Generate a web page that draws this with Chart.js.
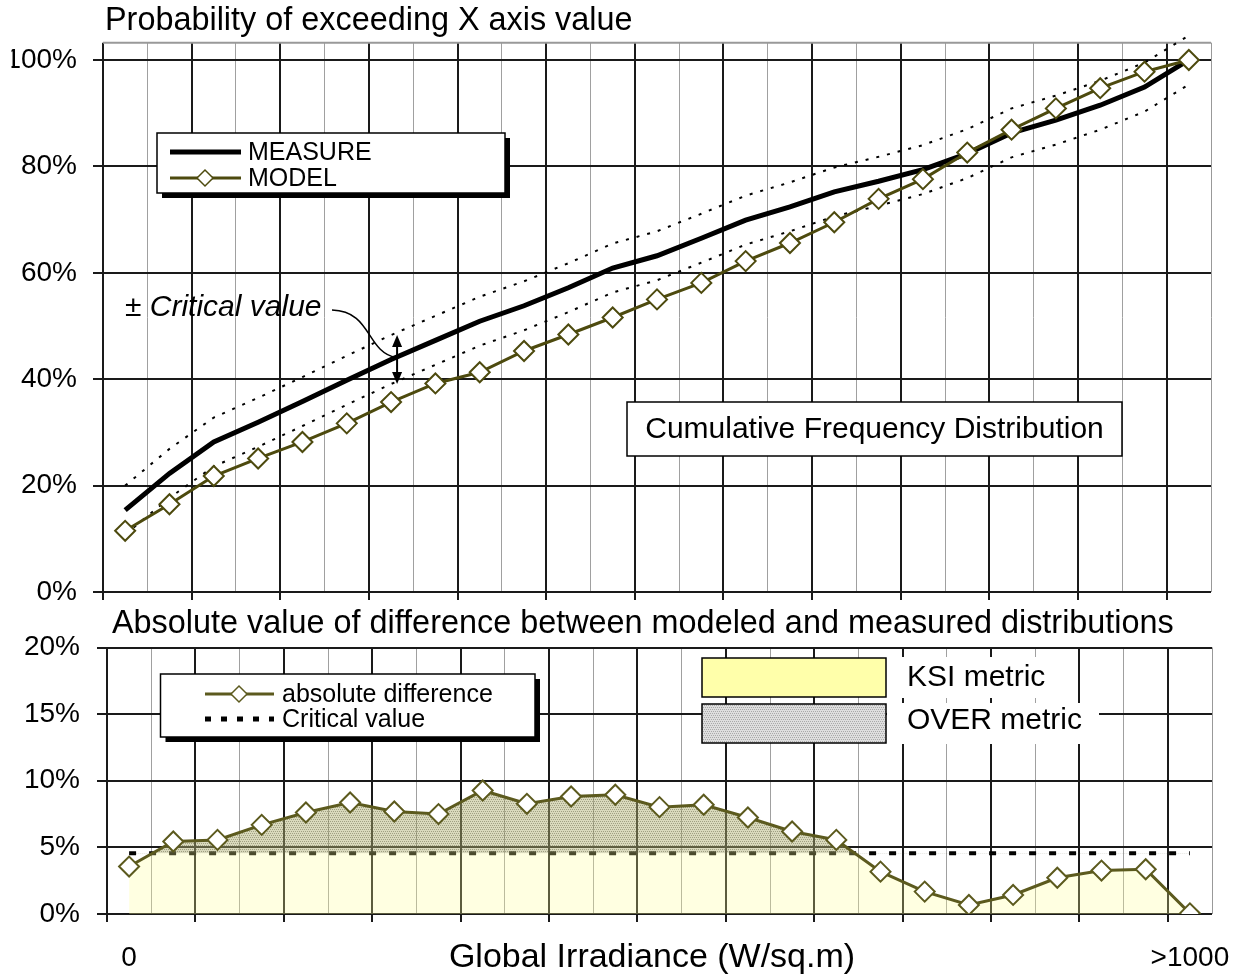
<!DOCTYPE html>
<html>
<head>
<meta charset="utf-8">
<script src="https://cdn.jsdelivr.net/npm/chart.js@4.4.1/dist/chart.umd.min.js"></script>
<style>
  body { margin: 0; background: #fff; width: 1253px; height: 978px; overflow: hidden; position: relative; }
  #diffCanvas { position: absolute; left: 0; top: 605px; }
  #cfdCanvas { position: absolute; left: 0; top: 0; }
</style>
</head>
<body>
<canvas id="diffCanvas" width="1253" height="373"></canvas>
<canvas id="cfdCanvas" width="1253" height="626"></canvas>
<script>
// Irradiance bins (only the first and last carry a tick label)
const bins = ['0', '', '', '', '', '', '', '', '', '', '', '', '', '', '', '', '', '', '', '', '', '', '', '', '>1000'];

// Cumulative frequency (%)
const measure = [15.4, 22.3, 28.2, 31.9, 35.8, 39.8, 43.7, 47.3, 50.9, 53.8, 57.2, 60.9, 63.2, 66.5, 69.9, 72.4, 75.2, 77.2, 79.4, 82.4, 86.3, 88.7, 91.5, 94.9, 100];
const model = [11.5, 16.5, 21.8, 25.1, 28.2, 31.7, 35.7, 39.2, 41.3, 45.3, 48.4, 51.6, 55.0, 58.1, 62.2, 65.6, 69.5, 73.9, 77.6, 82.6, 86.9, 90.9, 94.7, 97.8, 100];
// dotted +/- critical value band around MEASURE (%)
const upperBand = [20.0, 26.9, 32.8, 36.5, 40.4, 44.4, 48.3, 51.9, 55.5, 58.4, 61.8, 65.5, 67.8, 71.1, 74.5, 77.0, 79.8, 81.8, 84.0, 87.0, 90.9, 93.3, 96.1, 99.5, 104.6];
const lowerBand = [10.8, 17.7, 23.6, 27.3, 31.2, 35.2, 39.1, 42.7, 46.3, 49.2, 52.6, 56.3, 58.6, 61.9, 65.3, 67.8, 70.6, 72.6, 74.8, 77.8, 81.7, 84.1, 86.9, 90.3, 95.4];

// Absolute difference (%)
const absDiff = [3.56, 5.44, 5.56, 6.69, 7.62, 8.37, 7.69, 7.50, 9.27, 8.27, 8.82, 8.95, 8.02, 8.20, 7.24, 6.19, 5.56, 3.18, 1.68, 0.68, 1.43, 2.72, 3.26, 3.36, 0.05];
const criticalValue = 4.56;

const topTicks = [0, 20, 40, 60, 80, 100];
const bottomTicks = [0, 5, 10, 15, 20];

const fontFam = '"Liberation Sans", Arial, sans-serif';
const olive = '#4d4a0e';
const olive2 = '#5c5a1e';

// little hatch patterns for the OVER fill
function hatch(bg, fg) {
    const c = document.createElement('canvas');
    c.width = 4; c.height = 4;
    const g = c.getContext('2d');
    g.fillStyle = bg; g.fillRect(0, 0, 4, 4);
    g.fillStyle = fg;
    for (let i = 0; i < 4; i++) g.fillRect(i, (i * 2) % 4, 1, 1);
    return g.createPattern(c, 'repeat');
}
const overFill = hatch('rgba(110,110,80,0.26)', 'rgba(80,80,50,0.42)');
const overSwatch = hatch('#dedede', '#a9a9a9');

// helpers
function diamond(ctx, x, y, r, stroke, lw) {
    ctx.beginPath();
    ctx.moveTo(x - r, y); ctx.lineTo(x, y - r); ctx.lineTo(x + r, y); ctx.lineTo(x, y + r);
    ctx.closePath();
    ctx.fillStyle = '#fff'; ctx.fill();
    ctx.lineWidth = lw; ctx.strokeStyle = stroke; ctx.stroke();
}
function shadowBox(ctx, x, y, w, h, off) {
    ctx.fillStyle = '#000'; ctx.fillRect(x + off, y + off, w, h);
    ctx.fillStyle = '#fff'; ctx.fillRect(x, y, w, h);
    ctx.lineWidth = 1.5; ctx.strokeStyle = '#000'; ctx.strokeRect(x, y, w, h);
}
function label(ctx, s, x, y, size, align, style) {
    ctx.font = (style || '') + ' ' + size + 'px ' + fontFam;
    ctx.fillStyle = '#000';
    ctx.textAlign = align || 'left';
    ctx.textBaseline = 'middle';
    ctx.fillText(s, x, y);
}

// grid styling: major line every other bin boundary, thin grey between
const isMajor = c => c.index !== undefined && c.index % 2 === 0;
const xGrid = {
    offset: true,
    color: c => c.index === undefined ? '#999' : (isMajor(c) ? '#1a1a1a' : '#a0a0a0'),
    lineWidth: c => isMajor(c) ? 2 : 1,
    tickLength: 8,
    tickColor: c => isMajor(c) ? '#1a1a1a' : 'rgba(0,0,0,0)',
    tickWidth: 2
};
const yGrid = { color: '#1a1a1a', lineWidth: 2, tickLength: 10, tickColor: '#1a1a1a', tickWidth: 2 };
const tickFont = { size: 28, family: fontFam };

// ---------- top chart: cumulative frequency ----------
const topPlugin = {
    id: 'topDecor',
    beforeDatasetsDraw(chart) {
        const { ctx, chartArea: a } = chart;
        ctx.save();
        ctx.strokeStyle = '#999'; ctx.lineWidth = 2;
        ctx.beginPath(); ctx.moveTo(a.left, a.top); ctx.lineTo(a.right, a.top); ctx.stroke();
        ctx.restore();
    },
    afterDraw(chart) {
        const ctx = chart.ctx;
        const xs = chart.scales.x, ys = chart.scales.y;
        ctx.save();
        // the original picture has its left edge cut through the "1" of 100%
        ctx.fillStyle = '#fff'; ctx.fillRect(0, 40, 11.5, 40);

        label(ctx, 'Probability of exceeding X axis value', 105, 21, 32.4);

        // legend
        shadowBox(ctx, 157, 133, 348, 60, 5);
        ctx.strokeStyle = '#000'; ctx.lineWidth = 5;
        ctx.beginPath(); ctx.moveTo(170, 152); ctx.lineTo(241, 152); ctx.stroke();
        label(ctx, 'MEASURE', 248, 153, 25);
        ctx.strokeStyle = olive; ctx.lineWidth = 3;
        ctx.beginPath(); ctx.moveTo(170, 178); ctx.lineTo(241, 178); ctx.stroke();
        diamond(ctx, 205, 178, 8, olive, 1.5);
        label(ctx, 'MODEL', 248, 179, 25);

        // box label
        ctx.fillStyle = '#fff'; ctx.fillRect(627, 402, 495, 54);
        ctx.strokeStyle = '#000'; ctx.lineWidth = 1.5; ctx.strokeRect(627, 402, 495, 54);
        label(ctx, 'Cumulative Frequency Distribution', 874.5, 430, 30, 'center');

        // +/- critical value annotation
        const at = 6;
        const ax = xs.getPixelForValue(at) + 6;
        const y1 = ys.getPixelForValue(upperBand[at]);
        const y2 = ys.getPixelForValue(lowerBand[at]);
        const ym = ys.getPixelForValue(measure[at]);
        label(ctx, '\u00b1 Critical value', 125, 308, 30, 'left', 'italic');
        ctx.strokeStyle = '#000'; ctx.lineWidth = 1.5;
        ctx.beginPath(); ctx.moveTo(332, 310);
        ctx.bezierCurveTo(372, 311, 366, 352, ax - 1, ym - 2);
        ctx.stroke();
        ctx.lineWidth = 2;
        ctx.beginPath(); ctx.moveTo(ax, y1 + 8); ctx.lineTo(ax, y2 - 8); ctx.stroke();
        ctx.fillStyle = '#000';
        ctx.beginPath(); ctx.moveTo(ax, y1); ctx.lineTo(ax - 5, y1 + 12); ctx.lineTo(ax + 5, y1 + 12); ctx.closePath(); ctx.fill();
        ctx.beginPath(); ctx.moveTo(ax, y2); ctx.lineTo(ax - 5, y2 - 12); ctx.lineTo(ax + 5, y2 - 12); ctx.closePath(); ctx.fill();
        ctx.restore();
    }
};

const bandStyle = {
    borderColor: '#000', borderWidth: 2, borderDash: [3, 8],
    pointRadius: 0, fill: false, clip: false, order: 3
};

new Chart(document.getElementById('cfdCanvas'), {
    type: 'line',
    data: {
        labels: bins,
        datasets: [
            { label: 'upper', data: upperBand, ...bandStyle },
            { label: 'lower', data: lowerBand, ...bandStyle },
            { label: 'MEASURE', data: measure, borderColor: '#000', borderWidth: 5, pointRadius: 0, fill: false, order: 1 },
            { label: 'MODEL', data: model, borderColor: olive, borderWidth: 3, pointStyle: 'rectRot', pointRadius: 10,
              pointBackgroundColor: '#fff', pointBorderColor: olive, pointBorderWidth: 2, fill: false, order: 0 }
        ]
    },
    options: {
        responsive: false,
        animation: false,
        layout: { padding: { left: 0, right: 42, top: 42.7, bottom: 0 } },
        plugins: { legend: { display: false }, tooltip: { enabled: false } },
        scales: {
            x: {
                type: 'category', offset: true,
                afterFit: s => { s.height = 34; },
                grid: xGrid, border: { display: false },
                ticks: { display: false }
            },
            y: {
                min: 0, max: 103.25,
                afterFit: s => { s.width = 103; },
                afterBuildTicks: s => { s.ticks = topTicks.map(v => ({ value: v })); },
                grid: yGrid, border: { display: false },
                ticks: { color: '#000', font: tickFont, padding: 16, callback: v => v + '%' }
            }
        }
    },
    plugins: [topPlugin]
});

// ---------- bottom chart: absolute difference ----------
const bottomPlugin = {
    id: 'bottomDecor',
    afterDraw(chart) {
        const ctx = chart.ctx;
        ctx.save();
        label(ctx, 'Absolute value of difference between modeled and measured distributions', 112, 19, 32.4);
        label(ctx, 'Global Irradiance (W/sq.m)', 652, 353, 34, 'center');

        // legend with line samples
        shadowBox(ctx, 160.5, 69, 374.5, 63, 5);
        ctx.strokeStyle = olive2; ctx.lineWidth = 3;
        ctx.beginPath(); ctx.moveTo(205, 89); ctx.lineTo(274, 89); ctx.stroke();
        diamond(ctx, 239, 89, 8, olive2, 1.5);
        label(ctx, 'absolute difference', 282, 90, 25);
        ctx.strokeStyle = '#000'; ctx.lineWidth = 5; ctx.setLineDash([6, 10]);
        ctx.beginPath(); ctx.moveTo(205, 114); ctx.lineTo(274, 114); ctx.stroke();
        ctx.setLineDash([]);
        label(ctx, 'Critical value', 282, 115, 25);

        // metric swatches
        ctx.fillStyle = '#fff';
        ctx.fillRect(887, 52, 190, 41);
        ctx.fillRect(887, 98, 212, 41);
        ctx.lineWidth = 1.5; ctx.strokeStyle = '#000';
        ctx.fillStyle = '#ffffaa'; ctx.fillRect(702, 53, 184, 39); ctx.strokeRect(702, 53, 184, 39);
        ctx.fillStyle = overSwatch; ctx.fillRect(702, 99, 184, 39); ctx.strokeRect(702, 99, 184, 39);
        label(ctx, 'KSI metric', 907, 73, 30);
        label(ctx, 'OVER metric', 907, 116, 30);
        ctx.restore();
    }
};

new Chart(document.getElementById('diffCanvas'), {
    type: 'line',
    data: {
        labels: bins,
        datasets: [
            { label: 'Critical value', data: bins.map(() => criticalValue), borderColor: '#000', borderWidth: 4,
              borderDash: [7, 13], pointRadius: 0, fill: false, order: 3 },
            { label: 'KSI metric', data: absDiff, borderWidth: 0, pointRadius: 0,
              fill: 'origin', backgroundColor: 'rgba(255,255,150,0.29)', order: 2 },
            { label: 'OVER metric', data: absDiff, borderWidth: 0, pointRadius: 0,
              fill: { target: { value: criticalValue }, above: overFill, below: 'rgba(0,0,0,0)' }, order: 1 },
            { label: 'absolute difference', data: absDiff, borderColor: olive2, borderWidth: 3,
              pointStyle: 'rectRot', pointRadius: 10, pointBackgroundColor: '#fff', pointBorderColor: olive2,
              pointBorderWidth: 2, fill: false, order: 0 }
        ]
    },
    options: {
        responsive: false,
        animation: false,
        layout: { padding: { left: 0, right: 41, top: 42.5, bottom: 0 } },
        plugins: { legend: { display: false }, tooltip: { enabled: false } },
        scales: {
            x: {
                type: 'category', offset: true,
                afterFit: s => { s.height = 64; },
                grid: xGrid, border: { display: false },
                ticks: { autoSkip: false, maxRotation: 0, padding: 19, color: '#000', font: tickFont }
            },
            y: {
                min: 0, max: 20,
                afterFit: s => { s.width = 107; },
                afterBuildTicks: s => { s.ticks = bottomTicks.map(v => ({ value: v })); },
                grid: yGrid, border: { display: false },
                ticks: { color: '#000', font: tickFont, padding: 17, callback: v => v + '%' }
            }
        }
    },
    plugins: [bottomPlugin]
});
</script>
</body>
</html>
